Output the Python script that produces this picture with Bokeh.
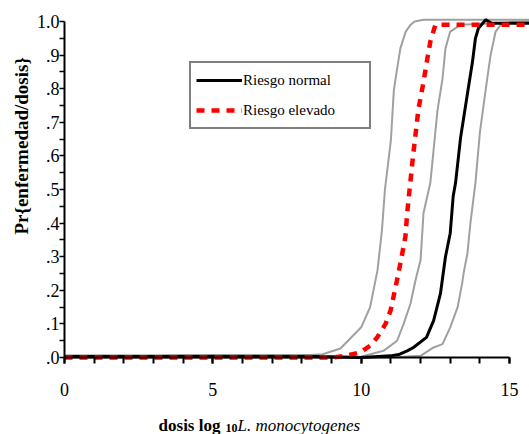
import math
from bokeh.plotting import figure
from bokeh.models import (FixedTicker, CustomJSTickFormatter, Label, Legend,
                          LegendItem, Range1d)
from bokeh.embed import file_html
from bokeh.resources import INLINE

# ---------------- data ----------------
x_ticks = [0, 5, 10, 15]
x_minor_ticks = list(range(0, 16))
y_ticks = [0.0, 0.1, 0.2, 0.3, 0.4, 0.5, 0.6, 0.7, 0.8, 0.9, 1.0]
y_minor_ticks = [0.05, 0.15, 0.25, 0.35, 0.45, 0.55, 0.65, 0.75, 0.85, 0.95]

# left grey band
band1_x = [0, 4, 5, 6, 7, 8, 8.7, 9.3, 10.0, 10.3, 10.55, 10.7, 10.8, 11.0, 11.1,
           11.2, 11.32, 11.5, 11.66, 11.8, 12.1, 15.7]
band1_y = [0.0, 0.006, 0.006, 0.006, 0.006, 0.006, 0.01, 0.027, 0.09, 0.15, 0.26, 0.38,
           0.5, 0.646, 0.795, 0.854, 0.92, 0.97, 0.99, 1.0, 1.005, 1.005]

# Riesgo elevado (mean)
elev_x = [0, 9.0, 9.53, 9.98, 10.31, 10.54, 10.82, 10.99, 11.16, 11.32, 11.49,
          11.55, 11.63, 11.76, 11.93, 12.1, 12.23, 12.33, 12.5, 15.7]
elev_y = [0.0, 0.0, 0.006, 0.016, 0.036, 0.06, 0.10, 0.14, 0.21, 0.28, 0.36,
          0.43, 0.50, 0.61, 0.74, 0.82, 0.89, 0.94, 0.99, 0.99]

# middle grey band
band2_x = [0, 9.9, 10.75, 11.21, 11.43, 11.66, 11.83, 12.0, 12.1, 12.33, 12.57,
           12.74, 12.84, 13.0, 13.35, 15.7]
band2_y = [0.0, 0.0, 0.02, 0.05, 0.10, 0.16, 0.23, 0.29, 0.43, 0.52, 0.735,
           0.83, 0.92, 0.97, 0.99, 1.0]

# Riesgo normal (mean)
norm_x = [0, 1, 2, 3, 4, 5, 6, 7, 8, 9, 10.0, 11.0, 11.3, 11.55, 11.76, 12.2,
          12.44, 12.67, 12.84, 13.0, 13.1, 13.18, 13.35, 13.58, 13.75, 13.85,
          13.95, 14.2, 14.4, 15.7]
norm_y = [0.004, 0.004, 0.004, 0.004, 0.004, 0.004, 0.004, 0.004, 0.004, 0.002,
          0.0, 0.005, 0.01, 0.02, 0.03, 0.06, 0.11, 0.19, 0.30, 0.37, 0.48, 0.52,
          0.655, 0.785, 0.88, 0.95, 0.98, 1.005, 0.995, 0.995]

# right grey band
band3_x = [0, 11.0, 12.0, 12.44, 12.74, 13.0, 13.25, 13.4, 13.45, 13.58, 13.68,
           13.85, 14.0, 14.2, 14.36, 14.53, 14.7, 15.1, 15.7]
band3_y = [0.0, 0.0, 0.005, 0.03, 0.04, 0.09, 0.15, 0.22, 0.25, 0.31, 0.40,
           0.52, 0.67, 0.80, 0.90, 0.97, 0.99, 1.0, 1.0]

FONT = "'Liberation Serif'"
GREY = "#a0a0a0"

# frame covers the whole canvas; axes are drawn at x=0 / y=0
p = figure(width=529, height=434, x_range=Range1d(-2.157, 15.672),
           y_range=Range1d(-0.229, 1.0625), output_backend="svg",
           toolbar_location=None, min_border_left=0, min_border_right=0,
           min_border_top=0, min_border_bottom=0)
p.outline_line_color = None
p.grid.visible = False
p.background_fill_color = "white"
p.border_fill_color = "white"

for bx, by in [(band1_x, band1_y), (band2_x, band2_y), (band3_x, band3_y)]:
    p.line(bx, by, line_color=GREY, line_width=2)
r_norm = p.line(norm_x, norm_y, line_color="black", line_width=3)
r_elev = p.line(elev_x, elev_y, line_color="#ff0000", line_width=4.5,
                line_dash="8 7")

# x axis
xa = p.xaxis[0]
xa.fixed_location = 0
xa.ticker = FixedTicker(ticks=x_ticks, minor_ticks=x_minor_ticks)
xa.bounds = (0, 15)
xa.axis_line_width = 2
xa.major_tick_line_width = 2
xa.minor_tick_line_width = 2
xa.major_tick_in = 0
xa.major_tick_out = 6
xa.minor_tick_in = 0
xa.minor_tick_out = 6
xa.major_label_standoff = 19
xa.major_label_text_font = FONT
xa.major_label_text_font_size = "18px"
xa.major_label_text_color = "black"

# y axis
ya = p.yaxis[0]
ya.fixed_location = 0
ya.ticker = FixedTicker(ticks=y_ticks, minor_ticks=y_minor_ticks)
ya.formatter = CustomJSTickFormatter(
    code="var s = tick.toFixed(1); return tick >= 1 ? s : s.slice(1);")
ya.bounds = (0, 1)
ya.axis_line_width = 2
ya.major_tick_line_width = 1.5
ya.minor_tick_line_width = 1.5
ya.major_tick_in = 0
ya.major_tick_out = 5
ya.minor_tick_in = 0
ya.minor_tick_out = 5
ya.major_label_standoff = 0
ya.major_label_text_font = FONT
ya.major_label_text_font_size = "18px"
ya.major_label_text_color = "black"

# axis titles
p.add_layout(Label(x=-1.45, y=0.63, text="Pr{enfermedad/dosis}",
                   angle=math.pi / 2, text_align="center",
                   text_baseline="middle", text_font=FONT,
                   text_font_style="bold", text_font_size="19px",
                   text_color="black"))
p.add_layout(Label(x=3.17, y=-0.2024, text="dosis log", text_align="left",
                   text_baseline="alphabetic", text_font=FONT,
                   text_font_style="bold", text_font_size="17px",
                   text_color="black"))
p.add_layout(Label(x=5.43, y=-0.2083, text="10", text_align="left",
                   text_baseline="alphabetic", text_font=FONT,
                   text_font_style="bold", text_font_size="12px",
                   text_color="black"))
p.add_layout(Label(x=5.83, y=-0.2024, text="L. monocytogenes",
                   text_align="left", text_baseline="alphabetic",
                   text_font=FONT, text_font_style="italic",
                   text_font_size="17px", text_color="black"))

legend = Legend(items=[LegendItem(label="Riesgo normal", renderers=[r_norm]),
                       LegendItem(label="Riesgo elevado", renderers=[r_elev])],
                location=(189, 305), margin=0, padding=5, spacing=6,
                glyph_width=46, glyph_height=24, label_standoff=1,
                label_width=121, label_height=24,
                label_text_font=FONT, label_text_font_size="15px",
                label_text_color="black",
                border_line_color="black", border_line_width=2,
                background_fill_color="white", background_fill_alpha=1.0)
p.add_layout(legend)

open("out.html", "w").write(file_html(p, INLINE))
